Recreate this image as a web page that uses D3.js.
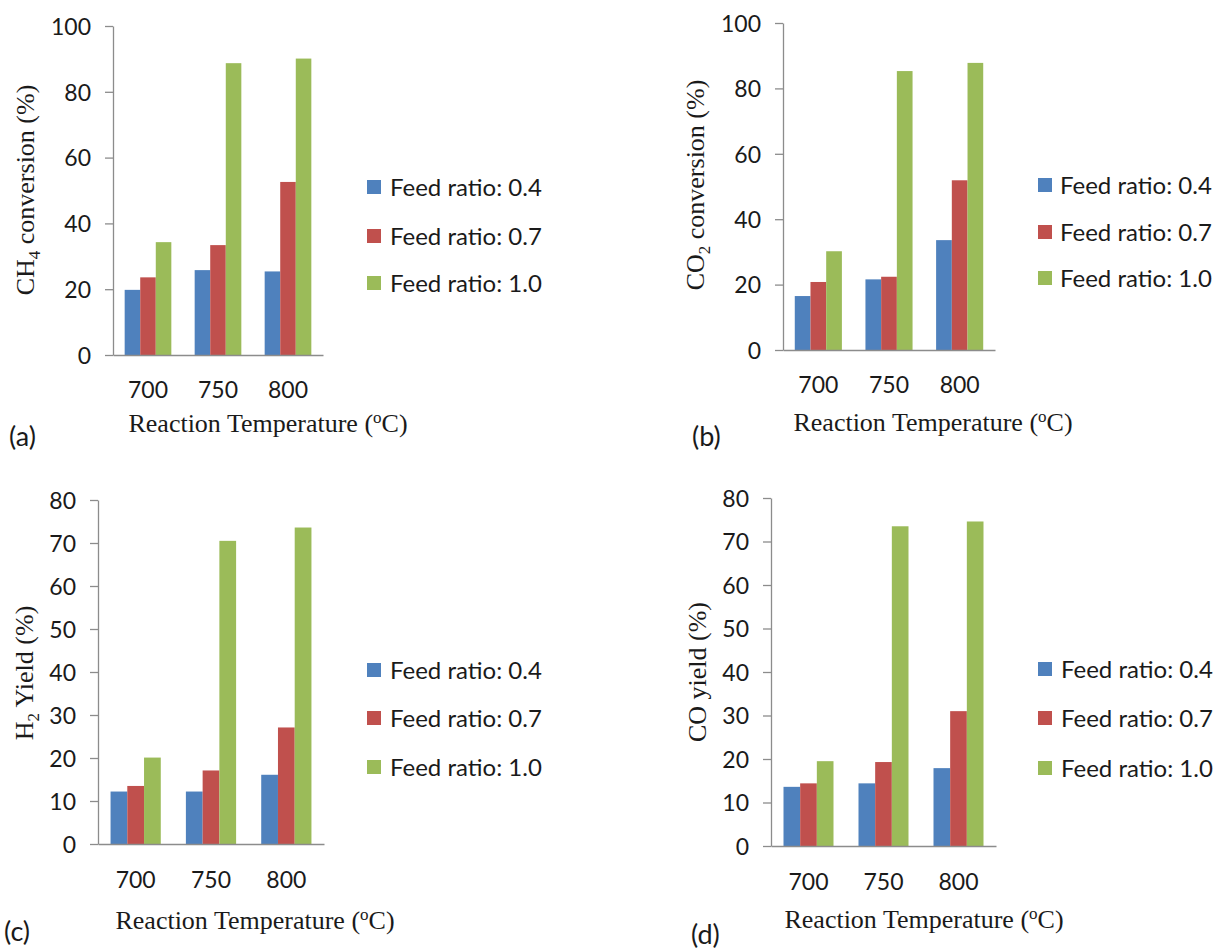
<!DOCTYPE html>
<html>
<head>
<meta charset="utf-8">
<script src="https://cdn.jsdelivr.net/npm/d3@7/dist/d3.min.js"></script>
<style>
  html, body { margin: 0; padding: 0; background: #fff; }
  svg { display: block; }
  .tick-label { font-family: Lato, "Open Sans", sans-serif; fill: #1a1a1a; }
  .serif { font-family: "Liberation Serif", "DejaVu Serif", serif; fill: #1a1a1a; }
</style>
</head>
<body>
<svg id="fig" width="1222" height="951"></svg>
<script>
// Reaction temperatures (°C) on the category axis
const temperatures = ["700", "750", "800"];
// Legend entries (CH4/CO2 feed ratio)
const feedRatios = ["Feed ratio: 0.4", "Feed ratio: 0.7", "Feed ratio: 1.0"];
const seriesColors = ["#4f81bd", "#c0504d", "#9bbb59"];

// Values per feed ratio, one entry per temperature
const ch4Conversion = [
  [19.8, 25.8, 25.4],
  [23.6, 33.4, 52.6],
  [34.3, 88.7, 90.1]
];
const co2Conversion = [
  [16.5, 21.6, 33.6],
  [20.8, 22.4, 51.9],
  [30.2, 85.3, 87.8]
];
const h2Yield = [
  [12.2, 12.2, 16.1],
  [13.5, 17.1, 27.1],
  [20.1, 70.5, 73.6]
];
const coYield = [
  [13.6, 14.4, 17.9],
  [14.4, 19.3, 31.0],
  [19.5, 73.5, 74.6]
];

// Y-axis tick values
const conversionTicks = [0, 20, 40, 60, 80, 100];
const yieldTicks = [0, 10, 20, 30, 40, 50, 60, 70, 80];

const panels = [
  { tag: "(a)", data: ch4Conversion, ticks: conversionTicks,
    yLabel: [["CH", false], ["4", true], [" conversion (%)", false]],
    x0: 113, x1: 323, yTop: 26, yZero: 355,
    yTitle: { x: 25, y: 190 }, xTickY: 390,
    xTitle: { x: 268, y: 432 }, tagPos: { x: 9, y: 446 },
    legend: { sx: 367, tx: 390, ys: [187, 236, 283] } },
  { tag: "(b)", data: co2Conversion, ticks: conversionTicks,
    yLabel: [["CO", false], ["2", true], [" conversion (%)", false]],
    x0: 783, x1: 995, yTop: 23, yZero: 350,
    yTitle: { x: 695, y: 185 }, xTickY: 385,
    xTitle: { x: 933, y: 431 }, tagPos: { x: 692, y: 446 },
    legend: { sx: 1038, tx: 1060, ys: [185, 232, 278] } },
  { tag: "(c)", data: h2Yield, ticks: yieldTicks,
    yLabel: [["H", false], ["2", true], [" Yield (%)", false]],
    x0: 98, x1: 324, yTop: 500, yZero: 844,
    yTitle: { x: 24, y: 673 }, xTickY: 880,
    xTitle: { x: 255, y: 929 }, tagPos: { x: 4, y: 941 },
    legend: { sx: 367, tx: 390, ys: [670, 718, 767] } },
  { tag: "(d)", data: coYield, ticks: yieldTicks,
    yLabel: [["CO yield (%)", false]],
    x0: 771, x1: 996, yTop: 498, yZero: 846,
    yTitle: { x: 697, y: 672 }, xTickY: 882,
    xTitle: { x: 924, y: 928 }, tagPos: { x: 691, y: 944 },
    legend: { sx: 1038, tx: 1061, ys: [669, 718, 768] } }
];

const svg = d3.select("#fig");
const axisColor = "#8c8c8c";

panels.forEach(p => {
  const g = svg.append("g");
  const yMax = p.ticks[p.ticks.length - 1];

  const x = d3.scaleBand().domain(temperatures).range([p.x0, p.x1])
    .paddingInner(1 / 3).paddingOuter(1 / 6);
  const xs = d3.scaleBand().domain(d3.range(feedRatios.length))
    .range([0, x.bandwidth()]).padding(0);
  const y = d3.scaleLinear().domain([0, yMax]).range([p.yZero, p.yTop]);

  // bars
  p.data.forEach((vals, si) => {
    g.append("g").selectAll("rect").data(vals).join("rect")
      .attr("x", (d, i) => x(temperatures[i]) + xs(si))
      .attr("y", d => y(d))
      .attr("width", xs.bandwidth())
      .attr("height", d => y(0) - y(d))
      .attr("fill", seriesColors[si]);
  });

  // y axis
  const yAxis = g.append("g")
    .attr("transform", `translate(${p.x0},0)`)
    .call(d3.axisLeft(y).tickValues(p.ticks).tickSize(8).tickSizeOuter(0).tickPadding(14));
  yAxis.select(".domain").attr("stroke", axisColor).attr("stroke-width", 1.3);
  yAxis.selectAll(".tick line").attr("stroke", axisColor).attr("stroke-width", 1.3);
  yAxis.selectAll(".tick text").attr("class", "tick-label")
    .attr("font-size", 23).attr("dy", "0.36em");

  // x axis
  const xAxis = g.append("g")
    .attr("transform", `translate(0,${p.yZero})`)
    .call(d3.axisBottom(x).tickSize(0).tickSizeOuter(0).tickPadding(0));
  xAxis.select(".domain").attr("stroke", axisColor).attr("stroke-width", 1.3);
  xAxis.selectAll(".tick text").attr("class", "tick-label")
    .attr("font-size", 23).attr("y", p.xTickY - p.yZero).attr("dy", "0.36em");
  xAxis.selectAll("text").attr("fill", null);
  yAxis.selectAll("text").attr("fill", null);

  // y axis title
  const yt = g.append("text").attr("class", "serif")
    .attr("font-size", 26)
    .attr("text-anchor", "middle")
    .attr("transform", `translate(${p.yTitle.x},${p.yTitle.y}) rotate(-90)`)
    .attr("dy", "0.35em");
  p.yLabel.forEach(([txt, sub]) => {
    const t = yt.append("tspan").text(txt);
    if (sub) t.attr("font-size", 17).attr("dy", "0.35em");
    else if (yt.selectAll("tspan").size() > 1) t.attr("dy", "-0.23em");
  });

  // x axis title
  const xt = g.append("text").attr("class", "serif")
    .attr("font-size", 26).attr("text-anchor", "middle")
    .attr("x", p.xTitle.x).attr("y", p.xTitle.y);
  xt.append("tspan").text("Reaction Temperature (");
  xt.append("tspan").text("o").attr("font-size", 17).attr("dy", "-0.55em");
  xt.append("tspan").text("C)").attr("dy", "0.36em");

  // panel tag
  g.append("text").attr("class", "tick-label")
    .attr("font-size", 27)
    .attr("x", p.tagPos.x).attr("y", p.tagPos.y)
    .text(p.tag);

  // legend
  const lg = g.append("g").selectAll("g").data(feedRatios).join("g")
    .attr("transform", (d, i) => `translate(0,${p.legend.ys[i]})`);
  lg.append("rect")
    .attr("x", p.legend.sx).attr("y", -7).attr("width", 14).attr("height", 14)
    .attr("fill", (d, i) => seriesColors[i]);
  lg.append("text").attr("class", "tick-label")
    .attr("font-size", 24).attr("x", p.legend.tx).attr("dy", "0.36em")
    .text(d => d);
});
</script>
</body>
</html>
